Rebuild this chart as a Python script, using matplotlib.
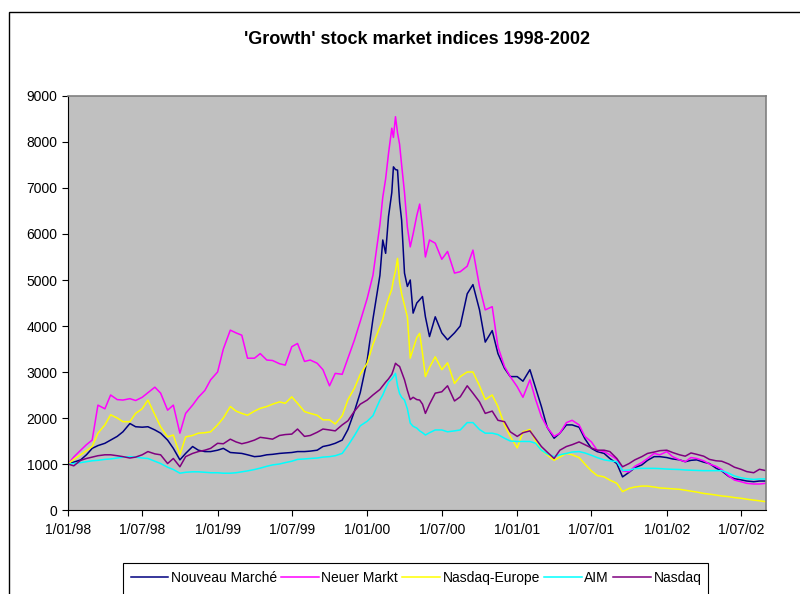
import pandas as pd
import matplotlib
matplotlib.use("Agg")
import matplotlib.pyplot as plt
from matplotlib.patches import Rectangle

plt.rcParams['font.family'] = ['Liberation Sans', 'DejaVu Sans']

# sample dates (semi-monthly, denser around the 2000 peak)
dates = (
    ['1998-%02d-%s' % (m, d) for m in range(1, 13) for d in ('01', '15')]
    + ['1999-%02d-%s' % (m, d) for m in range(1, 13) for d in ('01', '15')]
    + ['2000-01-01', '2000-01-15', '2000-02-01', '2000-02-08', '2000-02-15', '2000-02-22',
       '2000-03-01', '2000-03-05', '2000-03-10', '2000-03-15', '2000-03-20', '2000-03-25',
       '2000-04-01', '2000-04-08', '2000-04-15', '2000-04-22', '2000-05-01', '2000-05-08',
       '2000-05-15', '2000-05-22', '2000-06-01', '2000-06-15', '2000-07-01', '2000-07-15',
       '2000-08-01', '2000-08-15', '2000-09-01', '2000-09-15', '2000-10-01', '2000-10-15',
       '2000-11-01', '2000-11-15', '2000-12-01', '2000-12-15']
    + ['2001-%02d-%s' % (m, d) for m in range(1, 13) for d in ('01', '15')]
    + ['2002-%02d-%s' % (m, d) for m in range(1, 9) for d in ('01', '15')]
    + ['2002-08-31']
)

nouveau_marche = [
    # 1998
    1000, 1040, 1090, 1200, 1340, 1400, 1450, 1520, 1600, 1700, 1880, 1810,
    1800, 1810, 1740, 1670, 1520, 1340, 1090, 1230, 1380, 1300, 1270, 1270,
    # 1999
    1300, 1340, 1250, 1240, 1230, 1200, 1160, 1170, 1200, 1210, 1230, 1240,
    1250, 1270, 1270, 1280, 1300, 1380, 1410, 1450, 1520, 1750, 2150, 2550,
    # 2000
    3260, 4150, 5100, 5870, 5580, 6380, 6900, 7460, 7400, 7390, 6700, 6300,
    5150, 4860, 5000, 4280, 4500, 4570, 4640, 4200, 3770, 4200, 3850, 3700,
    3850, 4000, 4700, 4900, 4350, 3650, 3900, 3400, 3080, 2900,
    # 2001
    2900, 2800, 3050, 2650, 2250, 1800, 1560, 1670, 1850, 1850, 1800, 1550,
    1340, 1270, 1230, 1120, 1010, 720, 820, 920, 980, 1080, 1160, 1160,
    # 2002
    1140, 1110, 1090, 1050, 1080, 1090, 1040, 1010, 910, 850, 730, 680,
    655, 630, 615, 630, 630,
]

neuer_markt = [
    # 1998
    1000, 1150, 1300, 1420, 1520, 2280, 2200, 2500, 2400, 2390, 2420, 2380,
    2450, 2550, 2670, 2540, 2170, 2280, 1670, 2100, 2280, 2450, 2600, 2830,
    # 1999
    3000, 3500, 3910, 3850, 3800, 3300, 3300, 3400, 3260, 3250, 3180, 3150,
    3550, 3620, 3230, 3260, 3190, 3050, 2700, 2970, 2950, 3300, 3700, 4100,
    # 2000
    4600, 5100, 6200, 6800, 7200, 7750, 8300, 8100, 8550, 8200, 7950, 7500,
    6900, 6150, 5720, 6000, 6400, 6650, 6150, 5500, 5870, 5800, 5450, 5620,
    5150, 5180, 5300, 5650, 4860, 4350, 4420, 3550, 3120, 2900,
    # 2001
    2680, 2450, 2830, 2400, 2030, 1800, 1600, 1670, 1900, 1950, 1850, 1600,
    1480, 1300, 1270, 1200, 1100, 850, 830, 950, 1030, 1120, 1230, 1200,
    # 2002
    1270, 1160, 1090, 1050, 1140, 1120, 1070, 1000, 950, 880, 740, 650,
    615, 580, 565, 565, 580,
]

nasdaq_europe = [
    # 1998
    1000, 1100, 1200, 1290, 1380, 1670, 1850, 2070, 2000, 1920, 1920, 2100,
    2200, 2390, 2070, 1810, 1590, 1630, 1200, 1590, 1620, 1670, 1680, 1700,
    # 1999
    1850, 2000, 2250, 2150, 2100, 2060, 2150, 2210, 2250, 2300, 2350, 2320,
    2460, 2320, 2140, 2100, 2060, 1960, 1960, 1870, 2050, 2400, 2650, 2950,
    # 2000
    3190, 3600, 3980, 4150, 4400, 4600, 4800, 5000, 5200, 5470, 4950, 4700,
    4450, 4200, 3300, 3500, 3750, 3840, 3400, 2900, 3100, 3330, 3050, 3200,
    2750, 2900, 3000, 3000, 2700, 2400, 2500, 2250, 1850, 1600,
    # 2001
    1350, 1700, 1750, 1500, 1300, 1200, 1080, 1150, 1230, 1200, 1140, 1000,
    850, 750, 720, 650, 580, 400, 470, 500, 520, 520, 500, 480,
    # 2002
    470, 460, 450, 430, 410, 390, 360, 345, 325, 305, 290, 270,
    255, 235, 215, 200, 180,
]

aim = [
    # 1998
    1000, 1010, 1030, 1050, 1070, 1080, 1100, 1110, 1130, 1150, 1160, 1150,
    1130, 1120, 1060, 1010, 930, 880, 800, 820, 830, 830, 820, 810,
    # 1999
    810, 800, 800, 810, 830, 850, 880, 910, 950, 980, 1000, 1030,
    1060, 1100, 1110, 1120, 1130, 1150, 1160, 1180, 1230, 1400, 1620, 1830,
    # 2000
    1930, 2050, 2390, 2500, 2650, 2780, 2850, 2900, 2970, 2700, 2530, 2450,
    2390, 2200, 1890, 1820, 1780, 1720, 1680, 1630, 1680, 1740, 1740, 1700,
    1720, 1740, 1900, 1900, 1750, 1670, 1670, 1640, 1560, 1500,
    # 2001
    1490, 1490, 1490, 1450, 1300, 1220, 1160, 1200, 1230, 1260, 1270, 1240,
    1190, 1140, 1090, 1070, 1050, 860, 870, 900, 905, 905, 905, 900,
    # 2002
    890, 885, 880, 870, 865, 860, 855, 855, 855, 855, 800, 740,
    700, 680, 665, 675, 675,
]

nasdaq = [
    # 1998
    1000, 960, 1080, 1120, 1150, 1180, 1200, 1200, 1180, 1160, 1130, 1150,
    1200, 1270, 1220, 1200, 1010, 1120, 940, 1160, 1230, 1270, 1300, 1340,
    # 1999
    1450, 1440, 1540, 1480, 1440, 1470, 1520, 1580, 1560, 1540, 1620, 1640,
    1650, 1760, 1600, 1620, 1690, 1760, 1740, 1720, 1850, 1940, 2150, 2300,
    # 2000
    2390, 2500, 2620, 2700, 2780, 2850, 2950, 3050, 3190, 3150, 3120, 3000,
    2830, 2600, 2400, 2450, 2400, 2390, 2300, 2100, 2300, 2540, 2570, 2700,
    2370, 2460, 2700, 2540, 2350, 2100, 2150, 1950, 1920, 1700,
    # 2001
    1600, 1680, 1720, 1550, 1380, 1260, 1120, 1300, 1380, 1420, 1480, 1420,
    1350, 1300, 1300, 1270, 1120, 940, 1010, 1090, 1160, 1230, 1260, 1290,
    # 2002
    1300, 1250, 1200, 1170, 1240, 1210, 1170, 1100, 1070, 1060, 1000, 930,
    885, 835, 810, 885, 855,
]

series_names = ['Nouveau Marché', 'Neuer Markt', 'Nasdaq-Europe', 'AIM', 'Nasdaq']
series_colors = ['#000080', '#FF00FF', '#FFFF00', '#00FFFF', '#800080']

tick_dates = ['1998-01-01', '1998-07-01', '1999-01-01', '1999-07-01', '2000-01-01',
              '2000-07-01', '2001-01-01', '2001-07-01', '2002-01-01', '2002-07-01']
tick_labels = ['1/01/98', '1/07/98', '1/01/99', '1/07/99', '1/01/00',
               '1/07/00', '1/01/01', '1/07/01', '1/01/02', '1/07/02']

x = pd.to_datetime(dates)
data = [nouveau_marche, neuer_markt, nasdaq_europe, aim, nasdaq]

fig = plt.figure(figsize=(8, 5.94), dpi=100)
ax = fig.add_axes([68 / 800, 84 / 594, 698 / 800, 414 / 594])
ax.set_facecolor('#C0C0C0')

for name, vals, col in zip(series_names, data, series_colors):
    ax.plot(x, vals, color=col, lw=1.1, label=name)

ax.set_xlim(pd.Timestamp('1998-01-01'), pd.Timestamp('2002-08-31'))
ax.set_ylim(0, 9000)
ax.set_yticks(range(0, 9001, 1000))
ax.set_xticks(pd.to_datetime(tick_dates))
ax.set_xticklabels(tick_labels)
ax.tick_params(axis='both', direction='out', length=4.5, width=0.8,
               labelsize=10, colors='black')
ax.tick_params(axis='y', pad=3)
ax.tick_params(axis='x', pad=5)
for s in ('top', 'right'):
    ax.spines[s].set_color('#808080')
    ax.spines[s].set_linewidth(1.2)
for s in ('left', 'bottom'):
    ax.spines[s].set_color('black')
    ax.spines[s].set_linewidth(0.8)

fig.text(417 / 800, 1 - 40 / 594, "'Growth' stock market indices 1998-2002",
         ha='center', va='center', fontsize=13, fontweight='bold')

leg = fig.legend(loc='center', bbox_to_anchor=(416 / 800, 1 - 578 / 594),
                 ncol=5, frameon=False, fontsize=10,
                 handlelength=2.7, handletextpad=0.2, columnspacing=0.3,
                 borderpad=0.3, borderaxespad=0)

# legend box: its bottom runs past the lower edge, as in the original
fig.patches.append(Rectangle((123 / 800, -0.2), 585 / 800, 0.2 + 1 - 563 / 594,
                             transform=fig.transFigure, fill=False,
                             edgecolor='black', lw=0.8))

# outer chart-area border (only top and left fall inside the crop)
fig.patches.append(Rectangle((9 / 800, -0.5), 2, 1.5 - 12 / 594, transform=fig.transFigure,
                             fill=False, edgecolor='black', lw=1.0))

fig.savefig('out.png', dpi=100, facecolor='white')
